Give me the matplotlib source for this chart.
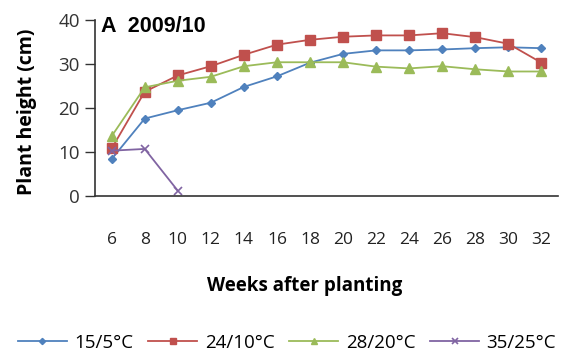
import matplotlib.pyplot as plt
import numpy as np

# weeks after planting (category axis)
weeks = [6, 8, 10, 12, 14, 16, 18, 20, 22, 24, 26, 28, 30, 32]

# plant height (cm)
t15_5 = [8.4, 17.6, 19.5, 21.2, 24.8, 27.2, 30.3, 32.3, 33.1, 33.1, 33.3, 33.6, 33.8, 33.6]
t24_10 = [10.8, 23.7, 27.4, 29.5, 32.1, 34.4, 35.5, 36.2, 36.5, 36.5, 37.0, 36.1, 34.6, 30.3]
t28_20 = [13.6, 24.7, 26.2, 27.1, 29.5, 30.4, 30.4, 30.4, 29.4, 29.0, 29.5, 28.8, 28.3, 28.3]
t35_25 = [10.3, 10.7, 1.2]

labels = ['15/5°C', '24/10°C', '28/20°C', '35/25°C']

plt.rcParams['font.family'] = ['Open Sans', 'DejaVu Sans']

fig = plt.figure(figsize=(5.63, 3.58), dpi=100)
ax = fig.add_axes([0.169, 0.4525, 0.822, 0.4916])

x = np.arange(len(weeks))
ax.plot(x, t15_5, color='#4F81BD', marker='D', ms=4.5, lw=1.3, label=labels[0])
ax.plot(x, t24_10, color='#C0504D', marker='s', ms=6.5, lw=1.3, label=labels[1])
ax.plot(x, t28_20, color='#9BBB59', marker='^', ms=7, lw=1.3, label=labels[2])
ax.plot(x[:len(t35_25)], t35_25, color='#8064A2', marker='x', ms=6, mew=1.2, lw=1.3, label=labels[3])

ax.set_xlim(-0.5, len(weeks) - 0.5)
ax.set_ylim(0, 40)
ax.set_yticks([0, 10, 20, 30, 40])
ax.set_xticks(x)
ax.set_xticklabels([str(w) for w in weeks])

for s in ['top', 'right']:
    ax.spines[s].set_visible(False)
for s in ['left', 'bottom']:
    ax.spines[s].set_linewidth(1.2)
    ax.spines[s].set_color('#333333')

ax.tick_params(axis='y', length=7, width=1, direction='out', labelsize=13.5, pad=4, colors='#333333')
ax.tick_params(axis='x', length=0, labelsize=12.5, pad=26, colors='#222222')

ax.set_ylabel('Plant height (cm)', fontsize=14, fontweight='bold')
ax.yaxis.set_label_coords(-0.125, 0.477)
ax.set_xlabel('Weeks after planting', fontsize=13.5, fontweight='bold')
ax.xaxis.set_label_coords(0.453, -0.455)

ax.text(0.012, 1.02, 'A  2009/10', transform=ax.transAxes, fontsize=15.5,
        fontweight='bold', family='Liberation Sans', va='top', ha='left')

fig.legend(loc='lower center', bbox_to_anchor=(0.51, -0.03), ncol=4, frameon=False,
           fontsize=13.5, handlelength=2.6, columnspacing=0.8, handletextpad=0.4,
           markerscale=0.7)

fig.savefig('out.png', dpi=100)
